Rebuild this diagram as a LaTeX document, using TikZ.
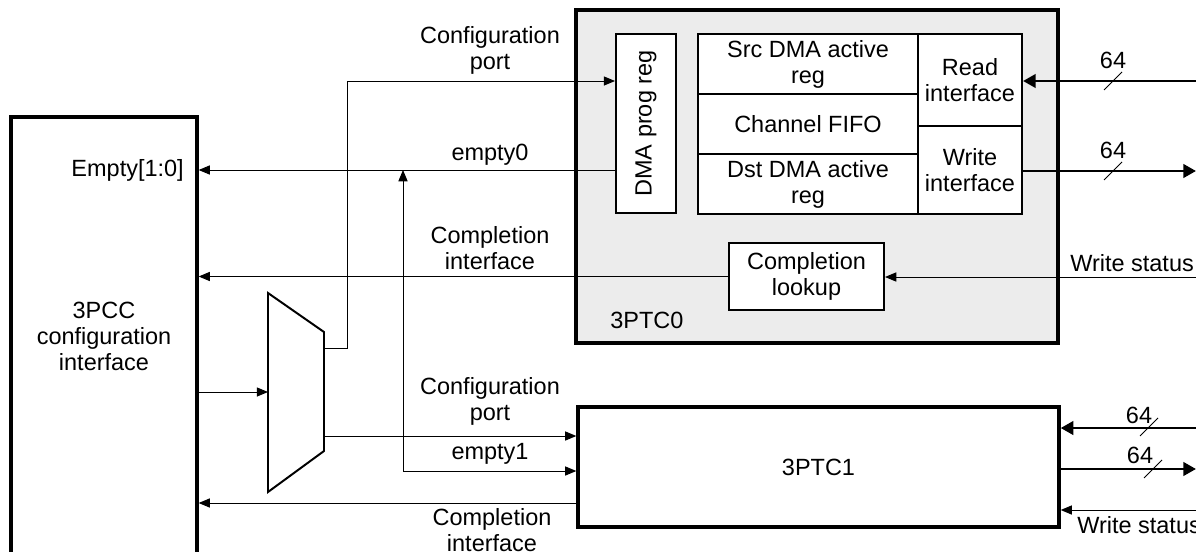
\documentclass[tikz,border=0pt]{standalone}
\usepackage{fontspec}
\setmainfont{Liberation Sans}
\usetikzlibrary{arrows.meta, positioning, calc}

\tikzset{
  lbl/.style={inner sep=0pt, align=center},
  blk/.style={draw, line width=1.4pt, fill=white, inner sep=0pt, align=center},
  outer/.style={draw, line width=2.3pt, inner sep=0pt},
  sig/.style={line width=0.7pt, -{Triangle[length=8pt,width=6.5pt]}},
  bus/.style={line width=2.1pt, -{Triangle[length=9pt,width=9.5pt]}},
  tick/.style={line width=0.7pt}
}

\begin{document}
\begin{tikzpicture}[x=0.025cm, y=-0.025cm, font=\fontsize{16.7}{18.5}\selectfont]
    \useasboundingbox (0,0) rectangle (1196,552);
    \clip (0,0) rectangle (1196,552);

    % Left: 3PCC configuration interface
    \node[outer, minimum width=4.65cm, minimum height=12.075cm] (pcc) at (104,358.5) {};
    \node[lbl] (pcclbl) at (104,336) {3PCC\\configuration\\interface};
    \node[lbl, anchor=east] (emptylbl) at (184,170) {Empty[1:0]};

    % 3PTC0 with its internals
    \node[outer, fill=gray!15, minimum width=12.05cm, minimum height=8.325cm] (ptc0) at (817,176.5) {};
    \node[lbl, anchor=west] (ptc0lbl) at (610,320) {3PTC0};
    \node[blk, minimum width=1.5cm, minimum height=4.475cm] (dmareg) at (646,123.5) {};
    \node[lbl, rotate=90] (dmalbl) at (dmareg.center) {DMA prog reg};
    \node[blk, minimum width=5.5cm, minimum height=1.5cm] (src) at (808,64) {Src DMA active\\reg};
    \node[blk, minimum width=5.5cm, minimum height=1.5cm] (fifo) at (808,124) {Channel FIFO};
    \node[blk, minimum width=5.5cm, minimum height=1.5cm] (dst) at (808,184) {Dst DMA active\\reg};
    \node[blk, minimum width=2.6cm, minimum height=2.3cm] (rdif) at (970,80) {Read\\interface};
    \node[blk, minimum width=2.6cm, minimum height=2.2cm] (wrif) at (970,170) {Write\\interface};
    \node[blk, minimum width=3.875cm, minimum height=1.675cm] (cmpl) at (806.5,276.5) {Completion\\lookup};

    % 3PTC1
    \node[outer, fill=white, minimum width=12.025cm, minimum height=3cm] (ptc1) at (818.5,467) {3PTC1};

    % Mux
    \coordinate (muxa) at (268,293);
    \coordinate (muxb) at (324,332);
    \coordinate (muxc) at (324,451);
    \coordinate (muxd) at (268,492);
    \draw[line width=1.4pt] (muxa) -- (muxb) -- (muxc) -- (muxd) -- cycle;
    \coordinate (muxin) at (268,392);
    \coordinate (muxo1) at (324,348);
    \coordinate (muxo2) at (324,436);

    % Configuration / empty / completion paths
    \coordinate (cfgup) at (347,81);
    \coordinate (e0) at (616,170);
    \coordinate (e1) at (403,471);
    \coordinate (e1up) at (403,170);
    \coordinate (c1) at (578,503);
    \draw[sig] (pcc.east |- muxin) -- (muxin);
    \draw[sig] (muxo1) -| (cfgup) -- (dmareg.west |- cfgup);
    \draw[sig] (dmareg.west |- e0) -- (pcc.east |- e0);
    \draw[sig] (e1) -- (e1up);
    \draw[sig] (e1) -- (ptc1.west |- e1);
    \draw[sig] (cmpl.west) -- (pcc.east |- cmpl.west);
    \draw[sig] (muxo2) -- (ptc1.west |- muxo2);
    \draw[sig] (ptc1.west |- c1) -- (pcc.east |- c1);

    \node[lbl] (cfg0lbl) at (490,50) {Configuration\\port};
    \node[lbl] (e0lbl) at (490,155) {empty0};
    \node[lbl] (cmp0lbl) at (490,248) {Completion\\interface};
    \node[lbl] (cfg1lbl) at (490,401) {Configuration\\port};
    \node[lbl] (e1lbl) at (490,454) {empty1};
    \node[lbl] (cmp1lbl) at (492,530) {Completion\\interface};

    % Right side buses
    \coordinate (rd0) at (1196,81);
    \coordinate (wr0) at (1196,171);
    \coordinate (ws0) at (1196,277);
    \coordinate (rd1) at (1196,428);
    \coordinate (wr1) at (1196,469);
    \coordinate (ws1) at (1196,510);
    \draw[bus] (rd0) -- (rdif.east |- rd0);
    \draw[bus] (wrif.east |- wr0) -- (wr0);
    \draw[sig] (ws0) -- (cmpl.east |- ws0);
    \draw[bus] (rd1) -- (ptc1.east |- rd1);
    \draw[bus] (ptc1.east |- wr1) -- (wr1);
    \draw[sig] (ws1) -- (ptc1.east |- ws1);

    \foreach \tx/\ty in {1113/81, 1113/171, 1149/427, 1153/469}
        \draw[tick] ({\tx-9},{\ty+9}) -- ({\tx+9},{\ty-9});
    \node[lbl] (w64a) at (1113,60) {64};
    \node[lbl] (w64b) at (1113,150) {64};
    \node[lbl] (w64c) at (1139,415) {64};
    \node[lbl] (w64d) at (1140,455) {64};
    \node[lbl, anchor=west] (ws0lbl) at (1070,263) {Write status};
    \node[lbl, anchor=west] (ws1lbl) at (1077,525) {Write status};
\end{tikzpicture}
\end{document}
